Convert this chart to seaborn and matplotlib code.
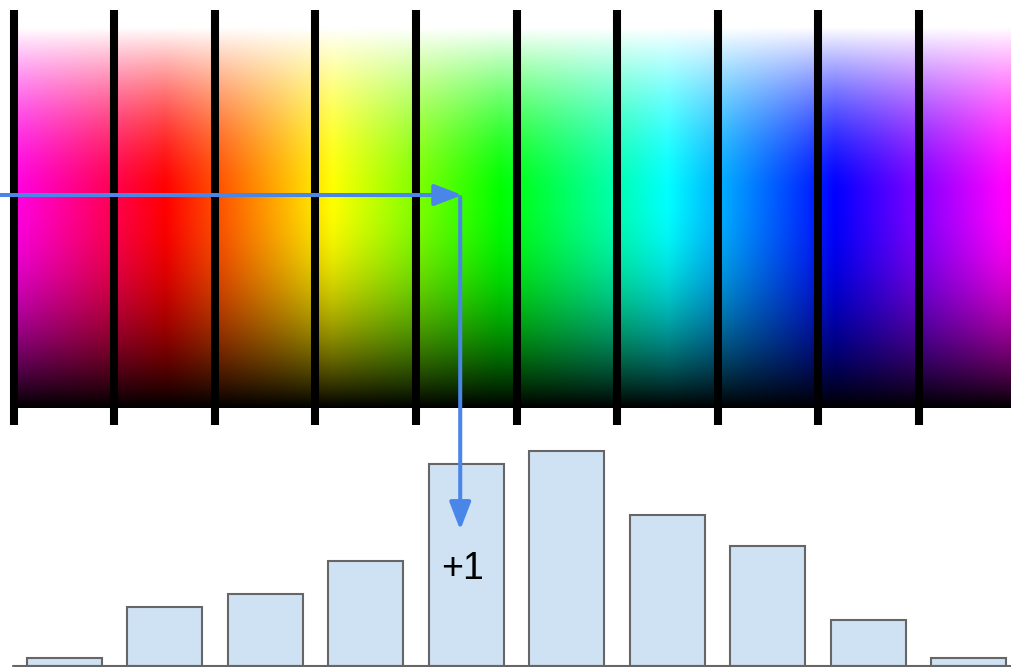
import numpy as np
import matplotlib
matplotlib.use("Agg")
import matplotlib.pyplot as plt
import seaborn as sns

# histogram bins (hue buckets) and their counts
bins = ["0", "1", "2", "3", "4", "5", "6", "7", "8", "9"]
counts = [8, 59, 72, 105, 202, 215, 151, 120, 46, 8]

picked_bin = 3.94       # where the sample pixel lands
picked_row = 195        # its row in the gradient strip (top = 10, bottom = 425)
label = "+1"

bar_fill = "#cfe2f3"
bar_edge = "#666666"
arrow_col = "#4a86e8"


def hsl_to_rgb(h, s, l):
    # h in degrees, s/l in 0..1, arrays
    c = (1 - np.abs(2 * l - 1)) * s
    hp = (h % 360) / 60.0
    x = c * (1 - np.abs(hp % 2 - 1))
    z = np.zeros_like(hp)
    conds = [hp < 1, hp < 2, hp < 3, hp < 4, hp < 5, hp <= 6]
    r = np.select(conds, [c, x, z, z, x, c])
    g = np.select(conds, [x, c, c, x, z, z])
    b = np.select(conds, [z, z, x, c, c, x])
    m = l - c / 2
    return np.clip(np.dstack([r + m, g + m, b + m]), 0, 1)


sns.set_style("white")
plt.rcParams['font.family'] = ['Liberation Sans', 'DejaVu Sans']

fig = plt.figure(figsize=(10.12, 6.67), dpi=100)
xlim = (-0.639, 9.43)

# top: hue / lightness gradient with bin separators
ax_top = fig.add_axes([0, 0.3628, 1, 0.6222])
xs = np.linspace(-0.5, xlim[1], 1000)
rows = np.linspace(28, 408, 380)
mid = 195
t = np.clip((rows - 28) / (mid - 28), 0, 1)
s = np.clip((rows - mid) / (408 - mid), 0, 1)
light = np.where(rows < mid, 1 - 0.5 * (1 - (1 - t) ** 1.6), 0.5 * (1 - s ** 2))
H, L = np.meshgrid(36 * (xs - 1), light)
img = hsl_to_rgb(H, np.ones_like(H), L)
ax_top.imshow(img, extent=(-0.5, xlim[1], 408, 28), aspect="auto",
              interpolation="bilinear", zorder=1)
ax_top.set_xlim(*xlim)
ax_top.set_ylim(425, 10)
for k in range(len(bins)):
    ax_top.axvline(k - 0.5, color="black", lw=5.8, solid_capstyle="butt", zorder=3)
ax_top.axis("off")

# bottom: histogram of counts
ax_bot = fig.add_axes([0, 0.0015, 1, 0.3388])
sns.barplot(x=bins, y=counts, color=bar_fill, saturation=1, edgecolor=bar_edge,
            linewidth=1.5, width=0.75, ax=ax_bot)
ax_bot.set_xlim(*xlim)
ax_bot.set_ylim(0, 226)
ax_bot.axis("off")
ax_bot.axhline(0, xmin=13 / 1012, xmax=1, color=bar_edge, lw=1.5, clip_on=False, zorder=5)

ax_bot.text(picked_bin + 0.02, 97, label, fontsize=27, ha="center", va="center", color="black")

# arrows: sample pixel -> its bin
astyle = "-|>,head_length=0.7,head_width=0.27"
ax_top.annotate("", xy=(picked_bin + 0.02, picked_row), xytext=(xlim[0] - 0.05, picked_row),
                arrowprops=dict(arrowstyle=astyle, mutation_scale=24, color=arrow_col, lw=2.9,
                                shrinkA=0, shrinkB=0), annotation_clip=False, zorder=6)
ax_bot.annotate("", xy=(picked_bin, 136), xycoords="data",
                xytext=(picked_bin, picked_row + 2), textcoords=ax_top.transData,
                arrowprops=dict(arrowstyle=astyle, mutation_scale=24, color=arrow_col, lw=2.9,
                                shrinkA=0, shrinkB=0), annotation_clip=False, zorder=6)

fig.savefig("out.png", dpi=100)
